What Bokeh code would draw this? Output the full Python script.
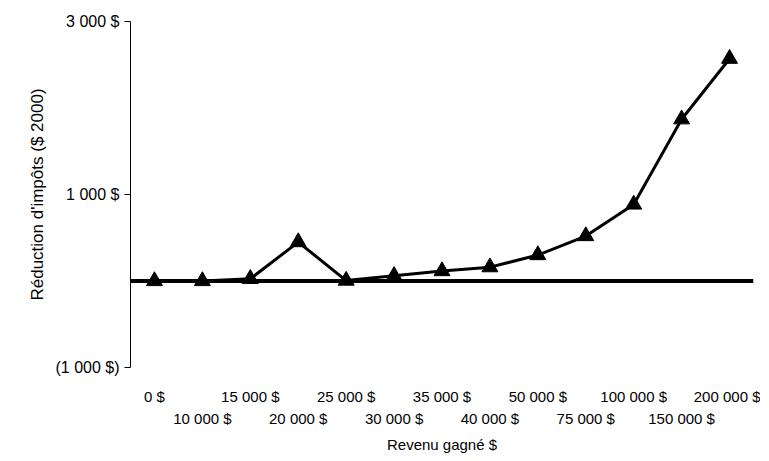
from bokeh.plotting import figure
from bokeh.models import LinearAxis, FixedTicker, Range1d
from bokeh.embed import file_html
from bokeh.resources import INLINE

categories = ["0 $", "10 000 $", "15 000 $", "20 000 $", "25 000 $", "30 000 $", "35 000 $",
              "40 000 $", "50 000 $", "75 000 $", "100 000 $", "150 000 $", "200 000 $"]
reduction = [0, 0, 25, 450, 5, 60, 115, 160, 300, 520, 885, 1870, 2570]
y_ticks = [-1000, 1000, 3000]
y_labels = {-1000: "(1 000 $)", 1000: "1 000 $", 3000: "3 000 $"}

xs = list(range(len(categories)))
FONT = "Liberation Sans"

p = figure(width=760, height=455, output_backend="svg", toolbar_location=None,
           x_range=Range1d(-0.5, len(categories) - 0.5), y_range=Range1d(-1000, 3000),
           x_axis_location=None, min_border_left=130, min_border_top=21,
           min_border_bottom=75, min_border_right=7)
p.outline_line_color = None
p.grid.visible = False
p.background_fill_color = "white"

p.yaxis.ticker = FixedTicker(ticks=y_ticks)
p.yaxis.major_label_overrides = y_labels
p.yaxis.minor_tick_line_color = None
p.yaxis.major_tick_in = 0
p.yaxis.major_tick_out = 6
p.yaxis.axis_line_width = 1
p.yaxis.axis_label = "Réduction d'impôts ($ 2000)"
p.yaxis.axis_label_text_font = FONT
p.yaxis.axis_label_text_font_style = "normal"
p.yaxis.axis_label_text_font_size = "17px"
p.yaxis.axis_label_text_color = "black"
p.yaxis.major_label_text_font = FONT
p.yaxis.major_label_text_font_size = "16px"
p.yaxis.major_label_text_color = "black"

for row in (0, 1):
    ax = LinearAxis(ticker=FixedTicker(ticks=[i for i in xs if i % 2 == row]),
                    major_label_overrides={i: categories[i] for i in xs},
                    axis_line_color=None, major_tick_line_color=None,
                    minor_tick_line_color=None, major_label_text_font=FONT,
                    major_label_text_font_size="15px", major_label_text_color="black",
                    major_label_standoff=14 if row == 0 else -4)
    if row == 1:
        ax.axis_label = "Revenu gagné $"
        ax.axis_label_text_font = FONT
        ax.axis_label_text_font_style = "normal"
        ax.axis_label_text_color = "black"
        ax.axis_label_text_font_size = "15px"
        ax.axis_label_standoff = 6
    p.add_layout(ax, "below")

p.line([-0.5, len(categories) - 0.5], [0, 0], color="black", line_width=4)
p.line(xs, reduction, color="black", line_width=3)
p.scatter(xs, reduction, marker="triangle", size=16, color="black")

open("out.html", "w").write(file_html(p, INLINE))
